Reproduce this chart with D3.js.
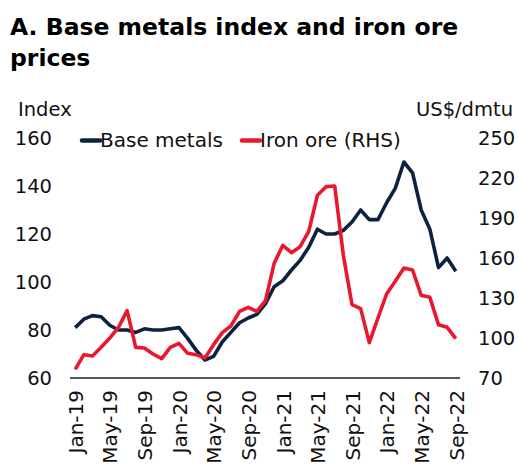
<!DOCTYPE html>
<html>
<head>
<meta charset="utf-8">
<script src="https://cdn.jsdelivr.net/npm/d3@7"></script>
<style>
  html, body { margin: 0; padding: 0; background: #fff; }
  svg { display: block; }
  text { font-family: "DejaVu Sans", sans-serif; fill: #111; }
</style>
</head>
<body>
<div id="chart"></div>
<script>
// ---- Data (Jan-19 .. Sep-22, monthly) ----
const months = d3.timeMonths(new Date(2019, 0, 1), new Date(2022, 9, 1)).map(d3.timeFormat("%b-%y"));
const baseMetals = [81, 84.5, 86, 85.5, 82, 80, 80, 79, 80.5, 80, 80, 80.5,
                    81, 76.5, 71.5, 67.5, 69, 75, 79, 83, 85, 86.5, 91, 98,
                    100.5, 105, 109, 114.5, 122, 120, 120, 121.5, 125, 130, 126, 126,
                    133, 139, 150, 145.5, 130, 122, 106, 110, 104.5];
const ironOre = [76.5, 87.5, 86.5, 93, 100, 108, 120.5, 93, 92.5, 88, 84.5, 93,
                 96, 88.5, 87.5, 85, 95, 104, 109, 120, 123, 120, 128, 156,
                 169.5, 164, 168.5, 180, 207, 213.5, 214, 162, 125, 122, 96.5, 115,
                 133, 142.5, 152.5, 151, 132, 130.5, 110, 108, 99.5];
const leftTicks = [60, 80, 100, 120, 140, 160];
const rightTicks = [70, 100, 130, 160, 190, 220, 250];
const xTickLabels = ["Jan-19","May-19","Sep-19","Jan-20","May-20","Sep-20","Jan-21","May-21","Sep-21","Jan-22","May-22","Sep-22"];
const seriesNames = ["Base metals", "Iron ore (RHS)"];
const colors = ["#0b2341", "#e8192c"];

// ---- Layout ----
const W = 519, H = 466;
const plot = { left: 70, right: 461, top: 138, bottom: 378 };

const svg = d3.select("#chart").append("svg").attr("width", W).attr("height", H);

const x = d3.scalePoint().domain(months).range([plot.left, plot.right]).padding(0.6);
const yL = d3.scaleLinear().domain([60, 160]).range([plot.bottom, plot.top]);
const yR = d3.scaleLinear().domain([70, 250]).range([plot.bottom, plot.top]);

// Title
const title = svg.append("text").attr("x", 10).attr("y", 35)
  .style("font-weight", "bold").style("font-size", "23.5px").style("fill", "#000");
title.append("tspan").attr("x", 10).attr("y", 35).text("A. Base metals index and iron ore");
title.append("tspan").attr("x", 10).attr("y", 66).text("prices");

// Axis titles
svg.append("text").attr("x", 18).attr("y", 116).style("font-size", "19.5px").text("Index");
svg.append("text").attr("x", 513).attr("y", 116).attr("text-anchor", "end").style("font-size", "19.5px").text("US$/dmtu");

// Left axis
const gL = svg.append("g").attr("transform", `translate(${plot.left},0)`)
  .call(d3.axisLeft(yL).tickValues(leftTicks).tickSize(0).tickPadding(18));
gL.select(".domain").remove();
gL.selectAll("text").style("font-size", "19.5px").style("font-family", "DejaVu Sans").attr("fill", "#111");

// Right axis
const gR = svg.append("g").attr("transform", `translate(${plot.right - 1},0)`)
  .call(d3.axisRight(yR).tickValues(rightTicks).tickSize(0).tickPadding(18));
gR.select(".domain").remove();
gR.selectAll("text").style("font-size", "19.5px").style("font-family", "DejaVu Sans").attr("fill", "#111");

// Bottom axis
const gX = svg.append("g").attr("transform", `translate(0,${plot.bottom})`)
  .call(d3.axisBottom(x).tickValues(xTickLabels).tickSize(0));
gX.select(".domain").attr("stroke", "#222").attr("stroke-width", 1.6)
  .attr("d", `M${plot.left},0H${plot.right - 1}`);
gX.selectAll("text")
  .style("font-size", "20px").style("font-family", "DejaVu Sans").attr("fill", "#111")
  .attr("transform", "rotate(-90)")
  .attr("x", -12).attr("y", 0).attr("dy", "0.36em")
  .style("text-anchor", "end");

// Lines
const lineL = d3.line().x((d, i) => x(months[i])).y(d => yL(d));
const lineR = d3.line().x((d, i) => x(months[i])).y(d => yR(d));

svg.append("path").datum(baseMetals).attr("d", lineL)
  .attr("fill", "none").attr("stroke", colors[0]).attr("stroke-width", 3.6)
  .attr("stroke-linejoin", "round");
svg.append("path").datum(ironOre).attr("d", lineR)
  .attr("fill", "none").attr("stroke", colors[1]).attr("stroke-width", 3.6)
  .attr("stroke-linejoin", "round");

// Legend
const legendItems = [
  { x: 82, name: seriesNames[0], color: colors[0] },
  { x: 242, name: seriesNames[1], color: colors[1] }
];
const lg = svg.append("g");
legendItems.forEach(it => {
  lg.append("line").attr("x1", it.x).attr("x2", it.x + 18).attr("y1", 140.5).attr("y2", 140.5)
    .attr("stroke", it.color).attr("stroke-width", 4.5).attr("stroke-linecap", "round");
  lg.append("text").attr("x", it.x + 18).attr("y", 147).style("font-size", "20px").text(it.name);
});
</script>
</body>
</html>
